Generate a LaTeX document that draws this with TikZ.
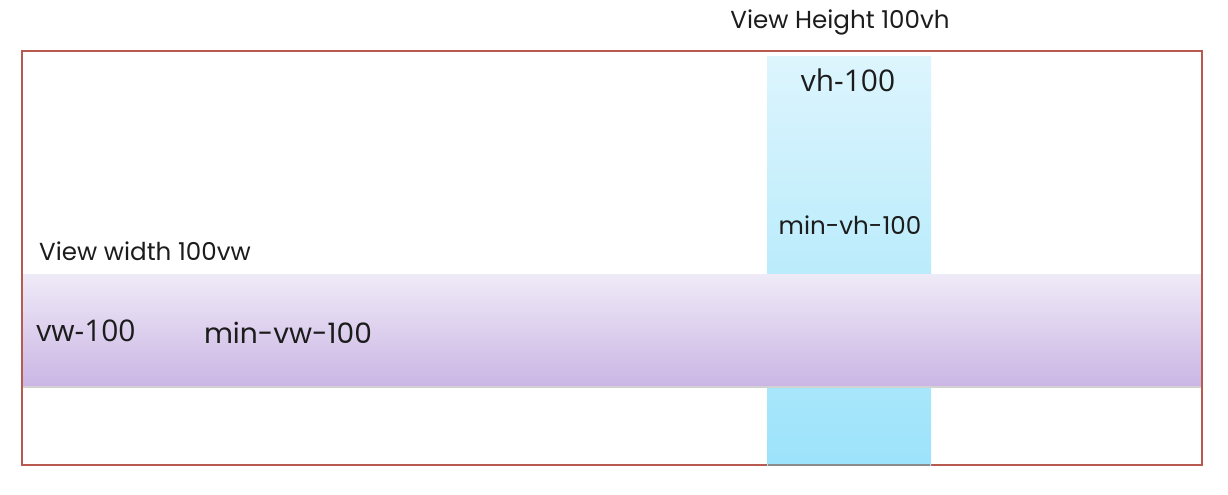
\documentclass[tikz,border=0pt]{standalone}
\usepackage{fontspec}
\setmainfont{Poppins}
\newfontfamily\unitfont{Open Sans}
\usepackage{xcolor}
\usetikzlibrary{positioning,shadows}

\definecolor{framered}{HTML}{B85A50}
\definecolor{vhtop}{HTML}{DDF5FD}
\definecolor{vhbot}{HTML}{9CE3FB}
\definecolor{vwtop}{HTML}{EFEAF7}
\definecolor{vwbot}{HTML}{CBB6E5}
\definecolor{textgray}{HTML}{1C1C1C}

\begin{document}
\begin{tikzpicture}[x=0.02cm,y=-0.02cm]
\tikzstyle{every node}+=[inner sep=0pt, text=textgray]
\tikzstyle{title}=[font=\fontsize{14}{16}\selectfont]
\tikzstyle{unit}=[font=\unitfont\fontsize{17}{20}\selectfont]
\useasboundingbox (0,0) rectangle (1228,494);
% outer viewport
\draw [framered, line width=1.2pt] (22,51) rectangle (1202,465);
% vertical band
\shade [top color=vhtop, bottom color=vhbot] (767,56) rectangle (931,465);
\draw [black!45, line width=0.8pt] (768,465) -- (930,465);
% horizontal band
\fill [black!18] (22,385) rectangle (1201,388);
\shade [top color=vwtop, bottom color=vwbot] (22,274) rectangle (1201,385);
\draw [framered, line width=1.2pt] (22,270) -- (22,390);
\draw [framered, line width=1.2pt] (1202,270) -- (1202,390);
% labels
\node [title] (vhtitle) at (840,22) {View Height 100vh};
\node [unit] (vh) at (848,80) {vh-100};
\node [title] (minvh) at (850,225) {min-vh-100};
\node [title] (vwtitle) at (145,251) {View width 100vw};
\node [unit] (vw) at (86,331) {vw-100};
\node [title, font=\fontsize{16}{18}\selectfont] (minvw) at (288,333) {min-vw-100};
\end{tikzpicture}
\end{document}
